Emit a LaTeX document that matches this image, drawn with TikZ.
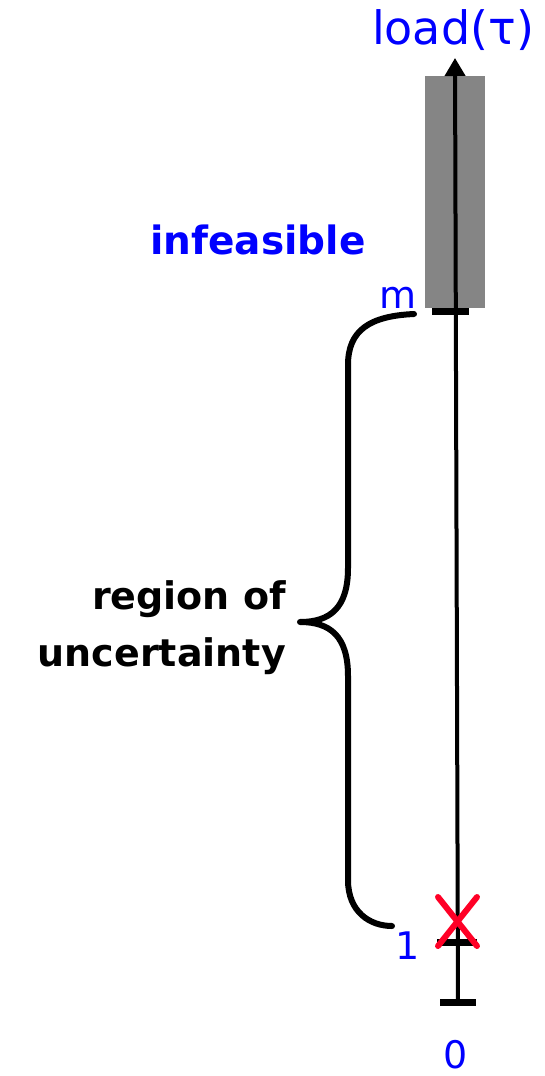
\documentclass[tikz,border=0pt]{standalone}
\usepackage{fontspec}
\setmainfont{DejaVu Sans}
\usetikzlibrary{arrows.meta,positioning}

\begin{document}
\begin{tikzpicture}[
  x=1pt,y=-1pt,
  line cap=butt,
  line join=round,
  axisline/.style={draw=black,line width=4pt},
  tickline/.style={draw=black,line width=7pt},
  bracket/.style={draw=black,line width=6pt,line cap=round},
  cross/.style={draw=red!85!magenta,line width=6pt,line cap=round},
  lbl/.style={text=blue,inner sep=0pt,font=\fontsize{38}{42}\selectfont},
  note/.style={text=black,inner sep=0pt,align=right,font=\bfseries\fontsize{38}{57}\selectfont}
]
  \useasboundingbox (0,0) rectangle (545,1076);

  % Infeasible band
  \fill[black!48] (425,76) rectangle (485,308);

  % Axis
  \coordinate (bottom) at (458,1003);
  \coordinate (top) at (455,58);
  \draw[axisline,-{Triangle[length=18pt,width=20pt]}] (bottom) -- (top);

  % Ticks
  \coordinate (mL) at (432,311);  \coordinate (mR) at (469,311);
  \coordinate (oneL) at (437,942); \coordinate (oneR) at (477,942);
  \coordinate (zeroL) at (440,1002); \coordinate (zeroR) at (476,1002);
  \draw[tickline] (mL) -- (mR);
  \draw[tickline] (oneL) -- (oneR);
  \draw[tickline] (zeroL) -- (zeroR);

  % Cross at 1
  \draw[cross] (438,897) -- (477,946);
  \draw[cross] (477,897) -- (438,946);

  % Labels
  \node[lbl,font=\fontsize{46}{50}\selectfont] (load) at (453,30) {load(τ)};
  \node[lbl,font=\bfseries\fontsize{39}{44}\selectfont] (infeas) at (258,240) {infeasible};
  \node[lbl] (mlbl) at (398,298) {m};
  \node[lbl] (onelbl) at (408,946) {1};
  \node[lbl] (zerolbl) at (456,1055) {0};
  \node[note,anchor=east] (region) at (286,628) {region of\\uncertainty};

  % Brace
  \coordinate (btop) at (414,314);
  \coordinate (btip) at (300,622);
  \coordinate (bbot) at (392,926);
  \draw[bracket] (btop) .. controls (370,316) and (348,330) .. (348,365)
    -- (348,568) .. controls (348,608) and (330,622) .. (btip)
    .. controls (330,622) and (348,636) .. (348,676)
    -- (348,880) .. controls (348,912) and (370,926) .. (bbot);
\end{tikzpicture}
\end{document}
